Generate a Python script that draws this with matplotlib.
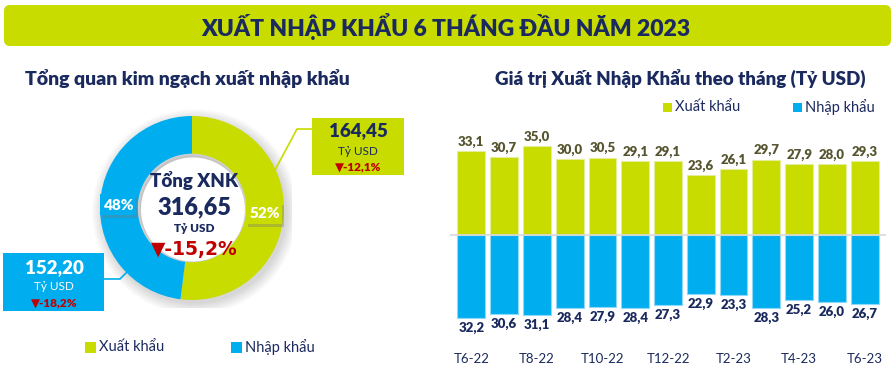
import numpy as np
import matplotlib
matplotlib.use("Agg")
import matplotlib.pyplot as plt
from matplotlib.patches import Rectangle, FancyBboxPatch, Circle
from matplotlib.lines import Line2D

plt.rcParams['font.family'] = ['Lato', 'DejaVu Sans']

# ---- data ----
title = "XUẤT NHẬP KHẨU 6 THÁNG ĐẦU NĂM 2023"
donut_labels = ["Xuất khẩu", "Nhập khẩu"]
donut_share = [52, 48]
total_value = "316,65"
total_change = "-15,2%"
export_total = "164,45"
export_change = "-12,1%"
import_total = "152,20"
import_change = "-18,2%"

months = ["T6-22", "T7-22", "T8-22", "T9-22", "T10-22", "T11-22", "T12-22",
          "T1-23", "T2-23", "T3-23", "T4-23", "T5-23", "T6-23"]
exports = [33.1, 30.7, 35.0, 30.0, 30.5, 29.1, 29.1, 23.6, 26.1, 29.7, 27.9, 28.0, 29.3]
imports = [32.2, 30.6, 31.1, 28.4, 27.9, 28.4, 27.3, 22.9, 23.3, 28.3, 25.2, 26.0, 26.7]

GREEN = "#C8DC00"
BLUE = "#00AEEF"
NAVY = "#1B2A5E"
RED = "#C00000"
OLIVE = "#56552F"
BOLD = "heavy"

W, H = 894, 383
fig = plt.figure(figsize=(W / 100, H / 100), dpi=100)
T = fig.dpi_scale_trans


def P(x, y):
    # pixel (top-left origin) -> inches for dpi_scale_trans
    return x / 100, (H - y) / 100


def txt(x, y, s, **kw):
    kw.setdefault("ha", "center")
    kw.setdefault("va", "center")
    fig.text(*P(x, y), s, transform=T, **kw)


def fig_axes(x0, y0, x1, y1):
    return fig.add_axes([x0 / W, 1 - y1 / H, (x1 - x0) / W, (y1 - y0) / H])


# ---- title bar ----
fig.patches.append(FancyBboxPatch(P(4, 46), 887 / 100, 41 / 100,
                                  boxstyle="round,pad=0,rounding_size=0.06",
                                  transform=T, fc=GREEN, ec="none"))
txt(446, 26, title, fontsize=16.5, fontweight="heavy", color=NAVY)

# ---- left: donut ----
txt(25, 78, "Tổng quan kim ngạch xuất nhập khẩu", ha="left", fontsize=14,
    fontweight=BOLD, color=NAVY)

cx, cy, R = 192, 208, 92
ax_d = fig_axes(cx - 100, cy - 100, cx + 100, cy + 100)

# soft shadow
for i in range(10):
    ax_d.add_patch(Circle((0.03, -0.04), 1.0 + 0.013 * i, fc="#000000",
                          alpha=0.016, ec="none", zorder=0))
ax_d.pie(donut_share, colors=[GREEN, BLUE], startangle=90, counterclock=False,
         radius=1.0, wedgeprops=dict(width=0.41, edgecolor="none"))
for i in range(4):
    ax_d.add_patch(Circle((0, 0), 0.59 - 0.008 * i, fc="#000000",
                          alpha=0.02, ec="none", zorder=3))
ax_d.add_patch(Circle((0.01, -0.015), 0.565, fc="white", ec="none", zorder=4))
ax_d.set_xlim(-100 / R, 100 / R)
ax_d.set_ylim(-100 / R, 100 / R)
ax_d.set_aspect("equal")
ax_d.axis("off")

# percent tags
for (x, y, s, c) in [(265, 214, f"{donut_share[0]}%", GREEN), (119, 205, f"{donut_share[1]}%", BLUE)]:
    fig.patches.append(Rectangle(P(x - 17, y + 13), 36 / 100, 22 / 100, transform=T,
                                 fc="#7A7A7A", alpha=0.35, ec="none"))
    fig.patches.append(Rectangle(P(x - 19, y + 10), 36 / 100, 21 / 100, transform=T,
                                 fc=c, ec="none"))
    txt(x, y, s, fontsize=11, fontweight=BOLD, color="white")

txt(194, 181, "Tổng XNK", fontsize=13.5, fontweight=BOLD, color=NAVY)
txt(194, 207, total_value, fontsize=17, fontweight=BOLD, color=NAVY)
txt(194, 229, "Tỷ USD", fontsize=8.5, fontweight=BOLD, color=NAVY)
txt(194, 250, "▼" + total_change, fontsize=13.5, fontweight="bold", color=RED,
    family=['DejaVu Sans'])

# export box
fig.patches.append(Rectangle(P(312, 175), 92 / 100, 57 / 100, transform=T, fc=GREEN, ec="none"))
fig.lines.append(Line2D([P(312, 129)[0], P(297, 129)[0], P(275, 170)[0]],
                        [P(312, 129)[1], P(297, 129)[1], P(275, 170)[1]],
                        transform=T, color=GREEN, lw=1.2))
txt(358, 131, export_total, fontsize=13.5, fontweight=BOLD, color=NAVY)
txt(358, 151, "Tỷ USD", fontsize=8.5, color=NAVY)
txt(358, 167, "▼" + export_change, fontsize=8.5, fontweight=BOLD, color=RED)

# import box
fig.patches.append(Rectangle(P(3, 311), 101 / 100, 58 / 100, transform=T, fc=BLUE, ec="none"))
fig.lines.append(Line2D([P(104, 279)[0], P(120, 279)[0], P(127, 272)[0]],
                        [P(104, 279)[1], P(120, 279)[1], P(127, 272)[1]],
                        transform=T, color=BLUE, lw=1.2))
txt(54, 268, import_total, fontsize=13.5, fontweight=BOLD, color="white")
txt(54, 287, "Tỷ USD", fontsize=8.5, color="white")
txt(54, 303, "▼" + import_change, fontsize=8.5, fontweight=BOLD, color=RED)

# left legend
for (x, s, c) in [(85, donut_labels[0], GREEN), (231, donut_labels[1], BLUE)]:
    fig.patches.append(Rectangle(P(x, 353), 11 / 100, 11 / 100, transform=T, fc=c, ec="none"))
    txt(x + 14, 347, s, ha="left", fontsize=10.5, color=NAVY)

# ---- right: monthly bars ----
txt(495, 78, "Giá trị Xuất Nhập Khẩu theo tháng (Tỷ USD)", ha="left", fontsize=13.5,
    fontweight=BOLD, color=NAVY)
for (x, s, c) in [(663, donut_labels[0], GREEN), (793, donut_labels[1], BLUE)]:
    fig.patches.append(Rectangle(P(x, 112), 9 / 100, 9 / 100, transform=T, fc=c, ec="none"))
    txt(x + 12, 107, s, ha="left", fontsize=10.5, color=NAVY)

zero_y, ppu = 235.5, 2.557
top_px, bot_px = 120, 345
ax = fig_axes(450, top_px, 886, bot_px)
ax.set_xlim(-0.65, 12.65)
ax.set_ylim(-(bot_px - zero_y) / ppu, (zero_y - top_px) / ppu)
x = np.arange(len(months))
neg_imports = [-v for v in imports]
ax.bar(x, exports, width=0.85, color=GREEN, edgecolor="#E4EE99", linewidth=0.8)
ax.bar(x, neg_imports, width=0.85, color=BLUE, edgecolor="#8FD8F7", linewidth=0.8)
ax.axhline(0, color="#D9D9D9", lw=1.2, zorder=3)
for i in range(len(months)):
    ax.text(x[i], exports[i] + 1.2, f"{exports[i]:.1f}".replace(".", ","), ha="center",
            va="bottom", fontsize=9.5, fontweight=BOLD, color=OLIVE)
    ax.text(x[i], -imports[i] - 1.5, f"{imports[i]:.1f}".replace(".", ","), ha="center",
            va="top", fontsize=9.5, fontweight=BOLD, color=NAVY)
ax.set_xticks(x[::2])
ax.set_xticklabels(months[::2], fontsize=9.5, color=NAVY)
ax.tick_params(axis="x", length=0, pad=6)
ax.set_yticks([])
for sp in ax.spines.values():
    sp.set_visible(False)

fig.savefig("out.png", dpi=100, facecolor="white")
